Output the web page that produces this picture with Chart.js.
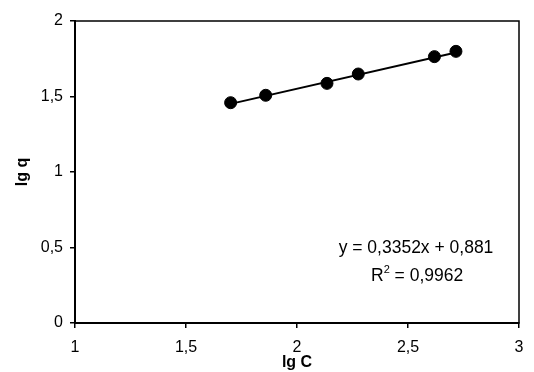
<!DOCTYPE html>
<html>
<head>
<meta charset="utf-8">
<script src="https://cdn.jsdelivr.net/npm/chart.js@4.4.1/dist/chart.umd.min.js"></script>
<style>
    html, body { margin: 0; padding: 0; background: #fff; }
    #wrap { width: 534px; height: 372px; }
</style>
</head>
<body>
<div id="wrap"><canvas id="myChart" width="534" height="372"></canvas></div>
<script>
// lg C / lg q pairs
var lgC = [1.701, 1.859, 2.135, 2.276, 2.619, 2.716];
var lgQ = [1.459, 1.508, 1.587, 1.649, 1.764, 1.799];

// linear fit shown on the plot
var slope = 0.3352;
var intercept = 0.881;
var rSquared = 0.9962;

var xTicks = [1, 1.5, 2, 2.5, 3];
var yTicks = [0, 0.5, 1, 1.5, 2];

function comma(v) {
    return String(v).replace(".", ",");
}

var points = lgC.map(function (x, i) {
    return { x: x, y: lgQ[i] };
});
var xMin = Math.min.apply(null, lgC);
var xMax = Math.max.apply(null, lgC);
var fitLine = [
    { x: xMin, y: slope * xMin + intercept },
    { x: xMax, y: slope * xMax + intercept },
];

var fontFamily = "'Liberation Sans', Arial, sans-serif";

// box round the plot area + equation text
var boxPlugin = {
    id: "boxAndEquation",
    afterDraw: function (chart) {
        var ctx = chart.ctx;
        var a = chart.chartArea;
        ctx.save();
        ctx.strokeStyle = "#000";
        ctx.lineWidth = 1.5;
        ctx.strokeRect(a.left, a.top, a.right - a.left, a.bottom - a.top);

        ctx.fillStyle = "#000";
        ctx.font = "17.5px " + fontFamily;
        ctx.textAlign = "center";
        ctx.textBaseline = "middle";
        ctx.fillText("y = " + comma(slope) + "x + " + comma(intercept), 416, 248);

        var rx = 371, ry = 276;
        ctx.textAlign = "left";
        ctx.fillText("R", rx, ry);
        var w = ctx.measureText("R").width;
        ctx.font = "11px " + fontFamily;
        ctx.fillText("2", rx + w, ry - 6);
        var w2 = ctx.measureText("2").width;
        ctx.font = "17.5px " + fontFamily;
        ctx.fillText(" = " + comma(rSquared), rx + w + w2, ry);
        ctx.restore();
    },
};

var tickFont = { family: fontFamily, size: 16 };
var titleFont = { family: fontFamily, size: 16, weight: "bold" };

var ctx = document.getElementById("myChart").getContext("2d");
var myChart = new Chart(ctx, {
    type: "scatter",
    data: {
        datasets: [
            {
                label: "trend",
                type: "line",
                data: fitLine,
                borderColor: "#000",
                borderWidth: 2,
                pointRadius: 0,
                fill: false,
            },
            {
                label: "lg q",
                data: points,
                backgroundColor: "#000",
                borderColor: "#000",
                pointRadius: 6,
                pointHoverRadius: 6,
            },
        ],
    },
    plugins: [boxPlugin],
    options: {
        responsive: false,
        animation: false,
        layout: { padding: { left: 0, right: 15, top: 21, bottom: 0 } },
        plugins: {
            legend: { display: false },
            tooltip: { enabled: false },
        },
        scales: {
            x: {
                type: "linear",
                min: 1,
                max: 3,
                afterBuildTicks: function (scale) {
                    scale.ticks = xTicks.map(function (v) { return { value: v }; });
                },
                afterFit: function (scale) {
                    scale.height = 49;
                },
                ticks: {
                    color: "#000",
                    font: tickFont,
                    padding: 10,
                    maxRotation: 0,
                    callback: function (v) { return comma(v); },
                },
                grid: {
                    drawOnChartArea: false,
                    drawTicks: true,
                    tickLength: 5,
                    color: "#000",
                    lineWidth: 1.5,
                },
                border: { color: "#000", width: 2 },
                title: {
                    display: true,
                    text: "lg C",
                    color: "#000",
                    font: titleFont,
                    padding: { top: 0, bottom: 0 },
                },
            },
            y: {
                min: 0,
                max: 2,
                afterBuildTicks: function (scale) {
                    scale.ticks = yTicks.map(function (v) { return { value: v }; });
                },
                afterFit: function (scale) {
                    scale.width = 75;
                },
                ticks: {
                    color: "#000",
                    font: tickFont,
                    padding: 7,
                    callback: function (v) { return comma(v); },
                },
                grid: {
                    drawOnChartArea: false,
                    drawTicks: true,
                    tickLength: 5,
                    color: "#000",
                    lineWidth: 1.5,
                },
                border: { color: "#000", width: 2 },
                title: {
                    display: true,
                    text: "lg q",
                    color: "#000",
                    font: titleFont,
                    padding: { top: 13, bottom: 13 },
                },
            },
        },
    },
});
</script>
</body>
</html>
